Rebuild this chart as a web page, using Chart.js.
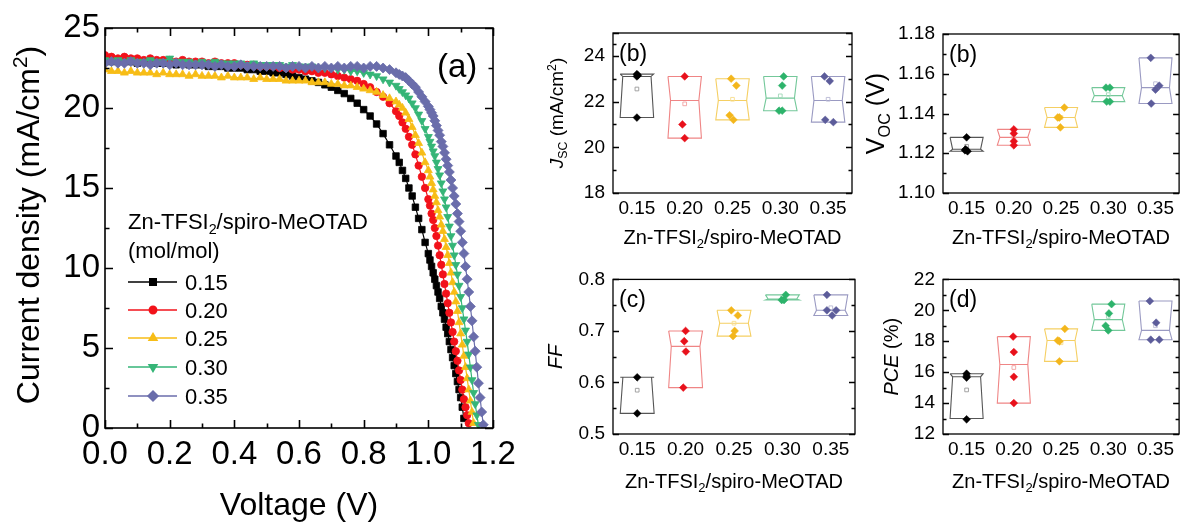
<!DOCTYPE html>
<html lang="en">
<head>
<meta charset="UTF-8">
<title>Zn-TFSI2 / spiro-MeOTAD devices</title>
<script src="https://cdn.jsdelivr.net/npm/chart.js"></script>
<style>
  body { margin: 0; background: #fff; width: 1184px; height: 524px; position: relative; overflow: hidden; }
  canvas { position: absolute; }
</style>
</head>
<body>
<canvas id="jv" width="540" height="524" style="left:0;top:0"></canvas>
<canvas id="jsc" width="330" height="260" style="left:540px;top:0"></canvas>
<canvas id="voc" width="324" height="260" style="left:860px;top:0"></canvas>
<canvas id="ff" width="330" height="264" style="left:540px;top:260px"></canvas>
<canvas id="pce" width="324" height="264" style="left:860px;top:260px"></canvas>

<script>
// ---- data ----
const ratios = ['0.15', '0.20', '0.25', '0.30', '0.35'];
const ratioX = [0.15, 0.20, 0.25, 0.30, 0.35];

const voltage = [
  0.00, 0.02, 0.04, 0.06, 0.08, 0.10, 0.12, 0.14, 0.16, 0.18, 0.20, 0.22, 0.24, 0.26, 0.28,
  0.30, 0.32, 0.34, 0.36, 0.38, 0.40, 0.42, 0.44, 0.46, 0.48, 0.50, 0.52, 0.54, 0.56, 0.58,
  0.60, 0.62, 0.64, 0.66, 0.68, 0.70, 0.72, 0.74, 0.76, 0.78, 0.80, 0.82, 0.84, 0.86, 0.88,
  0.90, 0.91, 0.92, 0.93, 0.94, 0.95, 0.96, 0.97, 0.98, 0.99,
  1.000, 1.005, 1.010, 1.015, 1.020, 1.025, 1.030, 1.035, 1.040, 1.045, 1.050, 1.055,
  1.060, 1.065, 1.070, 1.075, 1.080, 1.085, 1.090, 1.095, 1.100, 1.105, 1.110, 1.115,
  1.120, 1.125, 1.130, 1.135, 1.140, 1.145, 1.150, 1.155, 1.160, 1.165, 1.170
];
const j015 = [
  23.0, 22.9, 23.0, 22.9, 22.9, 22.8, 22.9, 22.8, 22.8, 22.8, 22.8, 22.7, 22.8, 22.7, 22.7,
  22.7, 22.6, 22.6, 22.6, 22.5, 22.5, 22.5, 22.4, 22.4, 22.3, 22.3, 22.2, 22.2, 22.1, 22.0,
  21.9, 21.8, 21.7, 21.6, 21.45, 21.3, 21.1, 20.9, 20.6, 20.3, 19.9, 19.5, 19.0, 18.4, 17.7,
  17.0, 16.6, 16.1, 15.6, 15.0, 14.5, 13.8, 13.1, 12.4, 11.6,
  10.9, 10.5, 10.1, 9.7, 9.3, 8.9, 8.5, 8.1, 7.6, 7.2, 6.8, 6.3, 5.9, 5.4, 4.9, 4.4,
  3.9, 3.4, 2.9, 2.4, 1.9, 1.3, 0.6
];
const j020 = [
  23.3, 23.2, 23.1, 23.2, 23.1, 23.1, 23.0, 23.1, 23.0, 23.0, 23.0, 22.9, 23.0, 22.9, 22.9,
  22.9, 22.8, 22.9, 22.8, 22.8, 22.8, 22.7, 22.7, 22.7, 22.6, 22.6, 22.6, 22.5, 22.5, 22.4,
  22.4, 22.3, 22.3, 22.2, 22.2, 22.1, 22.0, 21.9, 21.8, 21.7, 21.5, 21.3, 21.0, 20.7, 20.3,
  19.8, 19.5, 19.1, 18.7, 18.2, 17.7, 17.1, 16.4, 15.7, 15.0,
  14.3, 13.9, 13.4, 13.0, 12.5, 12.0, 11.4, 10.8, 10.2, 9.6, 9.0, 8.4, 7.8, 7.2, 6.6, 6.0,
  5.4, 4.8, 4.2, 3.6, 3.0, 2.4, 1.8, 1.3, 0.8, 0.3
];
const j025 = [
  22.4, 22.3, 22.3, 22.2, 22.3, 22.2, 22.2, 22.2, 22.1, 22.2, 22.1, 22.1, 22.1, 22.0, 22.1,
  22.0, 22.0, 22.0, 21.9, 22.0, 21.9, 21.9, 21.9, 21.8, 21.9, 21.8, 21.8, 21.8, 21.7, 21.7,
  21.7, 21.7, 21.6, 21.6, 21.6, 21.5, 21.5, 21.4, 21.4, 21.3, 21.2, 21.1, 21.0, 20.8, 20.6,
  20.4, 20.2, 20.0, 19.7, 19.3, 18.8, 18.3, 17.8, 17.2, 16.6,
  16.1, 15.7, 15.3, 14.9, 14.5, 14.1, 13.6, 13.2, 12.7, 12.3, 11.8, 11.3, 10.8, 10.3, 9.7, 9.1,
  8.5, 7.9, 7.3, 6.6, 5.9, 5.2, 4.5, 3.8, 3.1, 2.4, 1.7, 1.0, 0.3
];
const j030 = [
  23.0, 22.9, 23.0, 22.9, 23.0, 22.9, 22.9, 23.0, 22.9, 22.9, 23.1, 22.9, 22.9, 22.9, 22.8,
  22.9, 22.8, 22.9, 22.8, 22.8, 22.8, 22.8, 22.7, 22.8, 22.7, 22.7, 22.7, 22.7, 22.6, 22.7,
  22.6, 22.6, 22.6, 22.5, 22.5, 22.5, 22.4, 22.4, 22.3, 22.3, 22.2, 22.1, 22.0, 21.8, 21.6,
  21.4, 21.2, 21.0, 20.8, 20.6, 20.3, 20.0, 19.6, 19.2, 18.7,
  18.2, 17.9, 17.6, 17.3, 17.0, 16.6, 16.2, 15.8, 15.3, 14.8, 14.3, 13.8, 13.2, 12.6, 12.0, 11.4,
  10.8, 10.2, 9.6, 8.9, 8.2, 7.5, 6.8, 6.1, 5.4, 4.6, 3.8, 3.0, 2.2, 1.5, 0.8, 0.2
];
const j035 = [
  22.8, 22.9, 22.8, 22.8, 22.9, 22.8, 22.8, 22.7, 22.8, 22.8, 22.7, 22.8, 22.7, 22.7, 22.7,
  22.7, 22.7, 22.6, 22.7, 22.6, 22.6, 22.7, 22.6, 22.6, 22.6, 22.6, 22.6, 22.6, 22.5, 22.6,
  22.6, 22.5, 22.6, 22.5, 22.6, 22.5, 22.6, 22.5, 22.6, 22.6, 22.5, 22.6, 22.6, 22.5, 22.4,
  22.2, 22.1, 22.0, 21.9, 21.7, 21.5, 21.3, 21.0, 20.7, 20.4,
  20.1, 19.9, 19.7, 19.5, 19.2, 18.9, 18.6, 18.3, 17.9, 17.6, 17.2, 16.8, 16.4, 16.0, 15.5, 15.0,
  14.5, 14.0, 13.4, 12.9, 12.3, 11.6, 10.9, 10.1, 9.3, 8.5, 7.6, 6.7, 5.7, 4.8, 3.8, 2.8, 1.9, 1.0, 0.2
];

// J_SC (mA/cm2)
const jscHigh = [23.2, 23.1, 23.0, 23.1, 23.1];
const jscLow = [21.3, 20.4, 21.2, 21.6, 21.1];
const jscMedian = [23.1, 22.05, 22.05, 22.15, 22.05];
const jscMean = [22.55, 21.9, 22.1, 22.25, 22.1];
const jscPoints = [[23.2, 23.15, 23.1, 21.3], [23.1, 21.0, 20.4], [23.0, 22.7, 21.4, 21.2], [23.1, 22.7, 21.6, 21.6], [23.1, 22.9, 21.2, 21.1]];
const jscJitter = [[0, 0.001, 0, 0], [0, -0.0024, 0], [-0.0014, 0.004, -0.003, 0.001], [0.0035, 0.002, -0.0013, 0.002], [-0.0038, 0.0017, -0.003, 0.0055]];

// V_OC (V)
const vocHigh = [1.128, 1.132, 1.143, 1.153, 1.168];
const vocLow = [1.121, 1.124, 1.133, 1.146, 1.145];
const vocMedian = [1.122, 1.128, 1.138, 1.149, 1.153];
const vocMean = [1.1235, 1.128, 1.138, 1.1495, 1.155];
const vocPoints = [[1.128, 1.122, 1.121, 1.1215], [1.132, 1.130, 1.126, 1.124], [1.143, 1.138, 1.138, 1.133], [1.153, 1.153, 1.146, 1.146], [1.168, 1.154, 1.152, 1.145]];
const vocJitter = [[0, -0.001, 0.001, -0.0017], [0, 0, 0, 0], [0.0035, -0.0035, -0.0017, -0.0007], [-0.0024, 0.0017, -0.0017, 0.0017], [-0.005, 0.004, 0, -0.0045]];

// FF
const ffHigh = [0.61, 0.70, 0.74, 0.77, 0.77];
const ffLow = [0.54, 0.59, 0.69, 0.76, 0.73];
const ffMedian = [0.61, 0.67, 0.715, 0.762, 0.74];
const ffMean = [0.585, 0.66, 0.715, 0.764, 0.745];
const ffPoints = [[0.61, 0.54], [0.70, 0.68, 0.66, 0.59], [0.74, 0.73, 0.70, 0.69], [0.77, 0.76, 0.76], [0.77, 0.74, 0.74, 0.73]];
const ffJitter = [[0, 0], [0, -0.0014, 0.0003, -0.0024], [-0.0028, 0.004, 0.0007, -0.001], [0.0035, -0.0007, 0.0017], [-0.004, -0.004, 0.0055, 0.0014]];

// PCE (%)
const pceHigh = [15.9, 18.3, 18.8, 20.4, 20.6];
const pceLow = [13.0, 14.0, 16.7, 18.7, 18.1];
const pceMedian = [15.7, 16.5, 18.05, 19.4, 18.7];
const pceMean = [14.85, 16.3, 17.9, 19.6, 19.0];
const pcePoints = [[15.9, 15.75, 15.65, 12.95], [18.3, 17.3, 15.7, 14.0], [18.8, 18.05, 18.0, 16.7], [20.4, 19.8, 19.0, 18.7], [20.6, 19.2, 18.1, 18.1]];
const pceJitter = [[0, 0, 0, 0], [-0.0007, 0, 0, 0], [0.004, -0.0035, -0.0017, -0.0017], [0.0035, 0.0007, -0.0028, 0], [-0.006, 0.0007, -0.005, 0.004]];

// ---- styles ----
const FONT = '"Liberation Sans", Arial, sans-serif';
const jvColors = ['#000000', '#f2121a', '#f7bd16', '#35b577', '#6a6dab'];
const jvStyles = [
  { pointStyle: 'rect', radius: 4.6, rotation: 0 },
  { pointStyle: 'circle', radius: 3.7, rotation: 0 },
  { pointStyle: 'triangle', radius: 4.6, rotation: 0 },
  { pointStyle: 'triangle', radius: 4.6, rotation: 180 },
  { pointStyle: 'rectRot', radius: 5, rotation: 0 }
];
const dotColors = ['#000000', '#e8111b', '#f3b61c', '#2db36b', '#5c5c9a'];
const boxColors = ['#555555', '#ef8585', '#f5cf63', '#74c89a', '#9a9ac2'];
const meanColors = ['#9a9a9a', '#f2a0a0', '#f7dc8c', '#9fd8b8', '#b8b8d4'];

// ---- helpers ----
function fontFor(p, size) {
  const small = p[1] === 'sub' || p[1] === 'sup';
  const it = p[1] === 'i' ? 'italic ' : '';
  return it + (small ? size * 0.65 : size) + 'px ' + FONT;
}
function drawRich(ctx, parts, x, y, size, align, rotate) {
  ctx.save();
  ctx.translate(x, y);
  if (rotate) ctx.rotate(-Math.PI / 2);
  let w = 0;
  parts.forEach(p => { ctx.font = fontFor(p, size); w += ctx.measureText(p[0]).width; });
  let cx = align === 'center' ? -w / 2 : 0;
  ctx.textAlign = 'left';
  ctx.textBaseline = 'alphabetic';
  ctx.fillStyle = '#000';
  parts.forEach(p => {
    ctx.font = fontFor(p, size);
    let dy = 0;
    if (p[1] === 'sub') dy = size * 0.22;
    if (p[1] === 'sup') dy = -size * 0.38;
    ctx.fillText(p[0], cx, dy);
    cx += ctx.measureText(p[0]).width;
  });
  ctx.restore();
}

// frame, inward ticks and texts
function decor(cfg) {
  return {
    id: 'decor',
    afterDraw(chart) {
      const { ctx, chartArea: a, scales } = chart;
      ctx.save();
      ctx.strokeStyle = '#000';
      ctx.lineWidth = cfg.frame;
      ctx.strokeRect(a.left, a.top, a.right - a.left, a.bottom - a.top);
      ctx.beginPath();
      const yt = (vals, len) => vals.forEach(v => {
        const py = Math.round(scales.y.getPixelForValue(v)) + 0.5;
        ctx.moveTo(a.left, py); ctx.lineTo(a.left + len, py);
        ctx.moveTo(a.right, py); ctx.lineTo(a.right - len, py);
      });
      const xt = (vals, len) => vals.forEach(v => {
        const px = Math.round(scales.x.getPixelForValue(v)) + 0.5;
        ctx.moveTo(px, a.bottom); ctx.lineTo(px, a.bottom - len);
        ctx.moveTo(px, a.top); ctx.lineTo(px, a.top + len);
      });
      yt(cfg.yMajor, cfg.major);
      yt(cfg.yMinor, cfg.minor);
      if (cfg.xMajor) { xt(cfg.xMajor, cfg.major); xt(cfg.xMinor, cfg.minor); }
      ctx.stroke();
      ctx.restore();
      cfg.texts(ctx, a);
    }
  };
}

function fixedScales(o) {
  return {
    x: {
      type: 'linear', min: o.xMin, max: o.xMax,
      grid: { display: false, drawTicks: false }, border: { display: false },
      afterBuildTicks: s => { s.ticks = o.xTicks.map(v => ({ value: v })); },
      ticks: { autoSkip: false, maxRotation: 0, padding: o.xPad, color: '#000', font: { family: FONT, size: o.tickSize }, callback: o.xFmt },
      afterFit: s => { s.height = o.xHeight; }
    },
    y: {
      type: 'linear', min: o.yMin, max: o.yMax,
      grid: { display: false, drawTicks: false }, border: { display: false },
      afterBuildTicks: s => { s.ticks = o.yTicks.map(v => ({ value: v })); },
      ticks: { autoSkip: false, padding: o.yPad, color: '#000', font: { family: FONT, size: o.tickSize }, callback: o.yFmt },
      afterFit: s => { s.width = o.yWidth; }
    }
  };
}

// ---- (a) J-V curves ----
const jvSeries = [j015, j020, j025, j030, j035];
new Chart(document.getElementById('jv'), {
  type: 'scatter',
  data: {
    datasets: jvSeries.map((j, i) => ({
      data: j.map((v, k) => ({ x: voltage[k], y: v })),
      showLine: true,
      borderColor: jvColors[i],
      backgroundColor: jvColors[i],
      borderWidth: 1.2,
      pointStyle: jvStyles[i].pointStyle,
      pointRadius: jvStyles[i].radius,
      pointRotation: jvStyles[i].rotation,
      pointBorderWidth: 0.8,
      order: 4 - i
    }))
  },
  options: {
    responsive: false, animation: false, events: [],
    layout: { padding: { left: 0, top: 28, right: 47, bottom: 0 } },
    plugins: { legend: { display: false }, tooltip: { enabled: false } },
    scales: fixedScales({
      xMin: 0, xMax: 1.2, xTicks: [0, 0.2, 0.4, 0.6, 0.8, 1.0, 1.2], xFmt: v => v.toFixed(1), xPad: 7, xHeight: 96,
      yMin: 0, yMax: 25, yTicks: [0, 5, 10, 15, 20, 25], yFmt: v => String(v), yPad: 5, yWidth: 105,
      tickSize: 33
    })
  },
  plugins: [decor({
    frame: 1.6, major: 8, minor: 4.5,
    yMajor: [0, 5, 10, 15, 20, 25], yMinor: [2.5, 7.5, 12.5, 17.5, 22.5],
    xMajor: [0, 0.2, 0.4, 0.6, 0.8, 1.0, 1.2], xMinor: [0.1, 0.3, 0.5, 0.7, 0.9, 1.1],
    texts(ctx, a) {
      drawRich(ctx, [['Voltage (V)']], (a.left + a.right) / 2, 515, 32, 'center');
      drawRich(ctx, [['Current density (mA/cm'], ['2', 'sup'], [')']], 39, (a.top + a.bottom) / 2 - 3, 32, 'center', true);
      drawRich(ctx, [['(a)']], 437, 77, 33, 'left');
      drawRich(ctx, [['Zn-TFSI'], ['2', 'sub'], ['/spiro-MeOTAD']], 128, 229, 22, 'left');
      drawRich(ctx, [['(mol/mol)']], 128, 258, 22, 'left');
      const rowY = [282, 310, 338, 367, 396];
      ratios.forEach((r, i) => {
        const y = rowY[i];
        ctx.save();
        ctx.strokeStyle = jvColors[i];
        ctx.fillStyle = jvColors[i];
        ctx.lineWidth = 1.5;
        ctx.beginPath(); ctx.moveTo(128, y); ctx.lineTo(177, y); ctx.stroke();
        Chart.helpers.drawPoint(ctx, { pointStyle: jvStyles[i].pointStyle, radius: jvStyles[i].radius, rotation: jvStyles[i].rotation, borderWidth: 0.8 }, 153, y);
        ctx.restore();
        drawRich(ctx, [[r]], 185, y + 8, 22, 'left');
      });
    }
  })]
});

// ---- box panels ----
function boxDatasets(high, low, median, mean, points, jitter) {
  const w = 0.0175, nw = 0.0148;
  const sets = [];
  ratioX.forEach((x, i) => {
    sets.push({
      data: [
        { x: x - w, y: high[i] }, { x: x + w, y: high[i] }, { x: x + nw, y: median[i] },
        { x: x + w, y: low[i] }, { x: x - w, y: low[i] }, { x: x - nw, y: median[i] },
        { x: x - w, y: high[i] }, { x: x, y: null },
        { x: x - nw, y: median[i] }, { x: x + nw, y: median[i] }
      ],
      showLine: true, spanGaps: false, pointRadius: 0,
      borderColor: boxColors[i], borderWidth: 1.1, order: 3
    });
  });
  sets.push({
    data: mean.map((v, i) => ({ x: ratioX[i], y: v })),
    pointStyle: 'rect', pointRadius: 2.6, pointBorderWidth: 0.9,
    pointBorderColor: meanColors, pointBackgroundColor: 'rgba(255,255,255,0)', order: 2
  });
  ratioX.forEach((x, i) => {
    sets.push({
      data: points[i].map((v, k) => ({ x: x + jitter[i][k], y: v })),
      pointStyle: 'rectRot', pointRadius: 3.9, pointBorderWidth: 0.5,
      pointBackgroundColor: dotColors[i], pointBorderColor: dotColors[i], order: 1
    });
  });
  return sets;
}

function minorBetween(ticks) {
  const out = [];
  for (let k = 0; k < ticks.length - 1; k++) out.push((ticks[k] + ticks[k + 1]) / 2);
  return out;
}

function boxPanel(id, o) {
  const canvas = document.getElementById(id);
  new Chart(canvas, {
    type: 'scatter',
    data: { datasets: boxDatasets(o.high, o.low, o.median, o.mean, o.points, o.jitter) },
    options: {
      responsive: false, animation: false, events: [],
      layout: { padding: { left: 0, top: o.top, right: canvas.width - o.right, bottom: 0 } },
      plugins: { legend: { display: false }, tooltip: { enabled: false } },
      scales: fixedScales({
        xMin: 0.125, xMax: 0.375, xTicks: ratioX, xFmt: v => v.toFixed(2), xPad: 4, xHeight: canvas.height - o.bottom,
        yMin: o.yTicks[0], yMax: o.yTicks[o.yTicks.length - 1], yTicks: o.yTicks, yFmt: o.yFmt, yPad: 8, yWidth: o.left,
        tickSize: 19
      })
    },
    plugins: [decor({
      frame: 1.3, major: 6, minor: 3.5,
      yMajor: o.yTicks, yMinor: minorBetween(o.yTicks),
      texts(ctx, a) {
        drawRich(ctx, [['Zn-TFSI'], ['2', 'sub'], ['/spiro-MeOTAD']], (a.left + a.right) / 2, o.xTitleY, 20, 'center');
        drawRich(ctx, o.yTitle, o.yTitleX, (a.top + a.bottom) / 2, o.yTitleSize, 'center', true);
        drawRich(ctx, [[o.label]], a.left + 6, a.top + 28, 23, 'left');
      }
    })]
  });
}

boxPanel('jsc', {
  high: jscHigh, low: jscLow, median: jscMedian, mean: jscMean, points: jscPoints, jitter: jscJitter,
  left: 73, right: 312, top: 33, bottom: 193,
  yTicks: [18, 20, 22, 24, 25].slice(0, 4).concat([25]), yFmt: v => (v === 25 ? '' : String(v)),
  yTitle: [['J', 'i'], ['SC', 'sub'], [' (mA/cm'], ['2', 'sup'], [')']], yTitleX: 23, yTitleSize: 19,
  xTitleY: 244, label: '(b)'
});
boxPanel('voc', {
  high: vocHigh, low: vocLow, median: vocMedian, mean: vocMean, points: vocPoints, jitter: vocJitter,
  left: 83, right: 323, top: 34, bottom: 193,
  yTicks: [1.10, 1.12, 1.14, 1.16, 1.18], yFmt: v => v.toFixed(2),
  yTitle: [['V'], ['OC', 'sub'], [' (V)']], yTitleX: 24, yTitleSize: 25,
  xTitleY: 244, label: '(b)'
});
boxPanel('ff', {
  high: ffHigh, low: ffLow, median: ffMedian, mean: ffMean, points: ffPoints, jitter: ffJitter,
  left: 73, right: 315, top: 15, bottom: 174,
  yTicks: [0.5, 0.6, 0.7, 0.8], yFmt: v => v.toFixed(1),
  yTitle: [['FF', 'i']], yTitleX: 22, yTitleSize: 20,
  xTitleY: 228, label: '(c)'
});
boxPanel('pce', {
  high: pceHigh, low: pceLow, median: pceMedian, mean: pceMean, points: pcePoints, jitter: pceJitter,
  left: 83, right: 323, top: 15, bottom: 174,
  yTicks: [12, 14, 16, 18, 20, 22], yFmt: v => String(v),
  yTitle: [['PCE', 'i'], [' (%)']], yTitleX: 38, yTitleSize: 20,
  xTitleY: 228, label: '(d)'
});
</script>
</body>
</html>
